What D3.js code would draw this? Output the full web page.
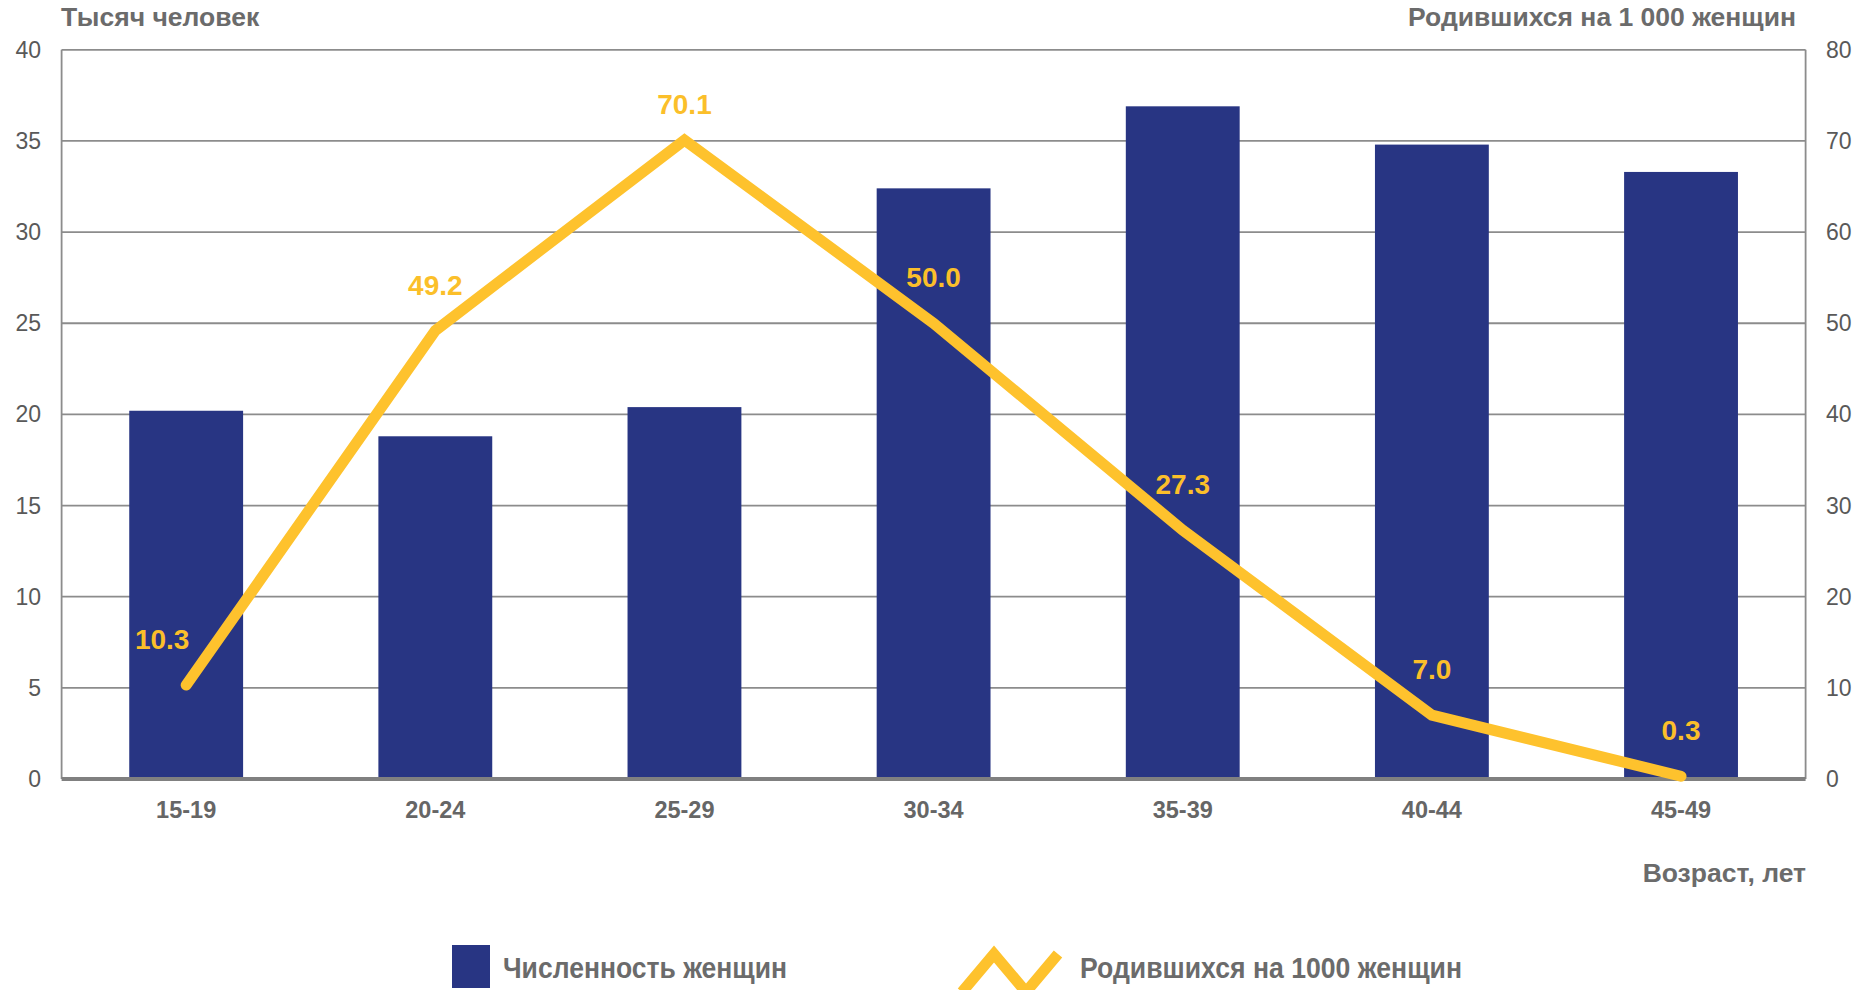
<!DOCTYPE html>
<html>
<head>
<meta charset="utf-8">
<script src="https://cdn.jsdelivr.net/npm/d3@7"></script>
<style>
    body { margin: 0; background: #fff; }
    svg { display: block; font-family: "Liberation Sans", Arial, sans-serif; }
    .tick-label { font-size: 23px; fill: #595959; }
    .axis-title { font-size: 26.5px; font-weight: bold; fill: #6b6b6b; }
    .cat-label { font-size: 23.5px; font-weight: bold; fill: #666; }
    .data-label { font-size: 28px; font-weight: bold; fill: #fbbf2a; }
    .legend-text { font-size: 29px; font-weight: bold; fill: #6b6b6b; }
</style>
</head>
<body>
<svg id="chart" width="1859" height="990"></svg>
<script>
// age groups
const ageGroups = ["15-19", "20-24", "25-29", "30-34", "35-39", "40-44", "45-49"];
// number of women, thousands (left axis)
const women = [20.2, 18.8, 20.4, 32.4, 36.9, 34.8, 33.3];
// births per 1000 women (right axis)
const births = [10.3, 49.2, 70.1, 50.0, 27.3, 7.0, 0.3];
const leftTicks = [0, 5, 10, 15, 20, 25, 30, 35, 40];
const rightTicks = [0, 10, 20, 30, 40, 50, 60, 70, 80];

const barColor = "#283583";
const lineColor = "#fec22d";

const plotLeft = 61.6, plotRight = 1805.6, plotTop = 49.8, plotBottom = 779;

const svg = d3.select("#chart");

const x = d3.scaleBand()
    .domain(ageGroups)
    .range([plotLeft, plotRight])
    .paddingInner(0.543)
    .paddingOuter(0.2715);

const yL = d3.scaleLinear().domain([0, 40]).range([plotBottom, plotTop]);
const yR = d3.scaleLinear().domain([0, 80]).range([plotBottom, plotTop]);

// gridlines
svg.append("g")
    .selectAll("line")
    .data(leftTicks.slice(1))
    .join("line")
    .attr("x1", plotLeft)
    .attr("x2", plotRight)
    .attr("y1", d => yL(d))
    .attr("y2", d => yL(d))
    .attr("stroke", "#8c8c8c")
    .attr("stroke-width", 1.8);

// side axis lines
svg.append("line")
    .attr("x1", plotLeft).attr("x2", plotLeft)
    .attr("y1", plotTop).attr("y2", plotBottom)
    .attr("stroke", "#8c8c8c").attr("stroke-width", 1.8);
svg.append("line")
    .attr("x1", plotRight).attr("x2", plotRight)
    .attr("y1", plotTop).attr("y2", plotBottom)
    .attr("stroke", "#8c8c8c").attr("stroke-width", 1.8);

// bars
svg.append("g")
    .selectAll("rect")
    .data(ageGroups)
    .join("rect")
    .attr("x", d => x(d))
    .attr("width", x.bandwidth())
    .attr("y", (d, i) => yL(women[i]))
    .attr("height", (d, i) => yL(0) - yL(women[i]))
    .attr("fill", barColor);

// baseline
svg.append("line")
    .attr("x1", plotLeft).attr("x2", plotRight)
    .attr("y1", plotBottom).attr("y2", plotBottom)
    .attr("stroke", "#808080").attr("stroke-width", 4);

// left tick labels
svg.append("g")
    .selectAll("text")
    .data(leftTicks)
    .join("text")
    .attr("class", "tick-label")
    .attr("x", 41)
    .attr("y", d => yL(d) + 8)
    .attr("text-anchor", "end")
    .text(d => d);

// right tick labels
svg.append("g")
    .selectAll("text")
    .data(rightTicks)
    .join("text")
    .attr("class", "tick-label")
    .attr("x", 1826)
    .attr("y", d => yR(d) + 8)
    .attr("text-anchor", "start")
    .text(d => d);

// category labels
svg.append("g")
    .selectAll("text")
    .data(ageGroups)
    .join("text")
    .attr("class", "cat-label")
    .attr("x", d => x(d) + x.bandwidth() / 2)
    .attr("y", 818)
    .attr("text-anchor", "middle")
    .text(d => d);

// line
const line = d3.line()
    .x((d, i) => x(ageGroups[i]) + x.bandwidth() / 2)
    .y(d => yR(d));

svg.append("path")
    .datum(births)
    .attr("d", line)
    .attr("fill", "none")
    .attr("stroke", lineColor)
    .attr("stroke-width", 11)
    .attr("stroke-linecap", "round")
    .attr("stroke-linejoin", "miter");

// data labels (first one sits left of the rising line)
svg.append("g")
    .selectAll("text")
    .data(births)
    .join("text")
    .attr("class", "data-label")
    .attr("x", (d, i) => x(ageGroups[i]) + x.bandwidth() / 2 - (i === 0 ? 24 : 0))
    .attr("y", (d, i) => yR(d) - (d === d3.max(births) ? 26 : 36))
    .attr("text-anchor", "middle")
    .text(d => d.toFixed(1));

// axis titles
svg.append("text").attr("class", "axis-title")
    .attr("x", 61).attr("y", 26)
    .text("Тысяч человек");
svg.append("text").attr("class", "axis-title")
    .attr("x", 1796).attr("y", 26)
    .attr("text-anchor", "end")
    .text("Родившихся на 1 000 женщин");
svg.append("text").attr("class", "axis-title")
    .attr("x", 1806).attr("y", 882)
    .attr("text-anchor", "end")
    .text("Возраст, лет");

// legend
const lg = svg.append("g");
lg.append("rect")
    .attr("x", 452).attr("y", 945)
    .attr("width", 38).attr("height", 43)
    .attr("fill", barColor);
lg.append("text").attr("class", "legend-text")
    .attr("x", 503).attr("y", 978)
    .attr("textLength", 284)
    .attr("lengthAdjust", "spacingAndGlyphs")
    .text("Численность женщин");
lg.append("path")
    .attr("d", "M962,992 L994,954 L1026,992 L1058,954")
    .attr("fill", "none")
    .attr("stroke", lineColor)
    .attr("stroke-width", 11)
    .attr("stroke-linejoin", "miter");
lg.append("text").attr("class", "legend-text")
    .attr("x", 1080).attr("y", 978)
    .attr("textLength", 382)
    .attr("lengthAdjust", "spacingAndGlyphs")
    .text("Родившихся на 1000 женщин");
</script>
</body>
</html>
